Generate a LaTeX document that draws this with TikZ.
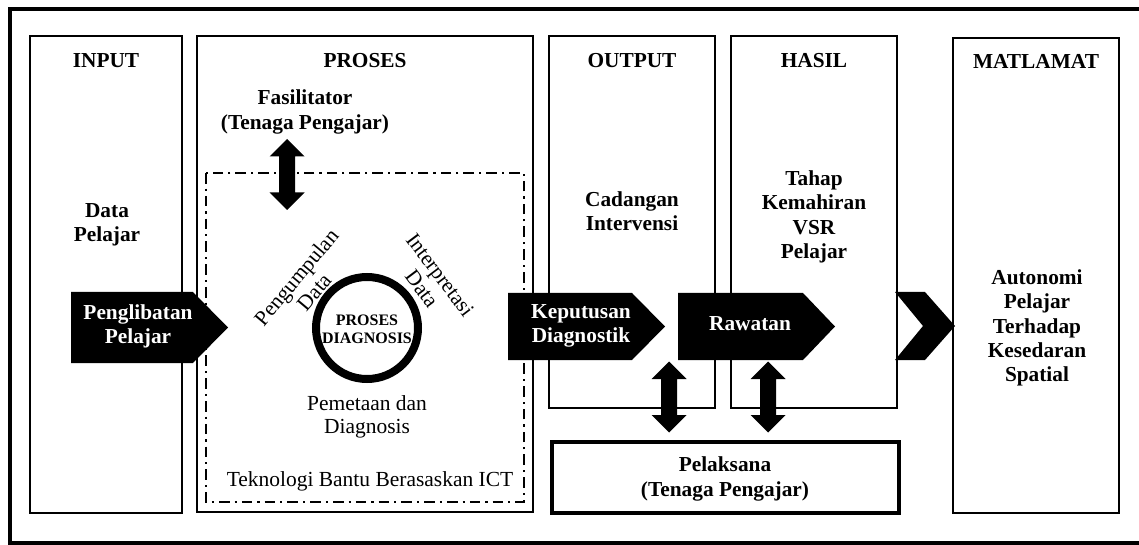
\documentclass[tikz,border=0pt]{standalone}
\usepackage{fontspec}
\setmainfont{Liberation Serif}
\begin{document}
\begin{tikzpicture}[x=0.75pt,y=-0.75pt,
  box/.style={draw, line width=1.5pt},
  thickbox/.style={draw, line width=2.4pt},
  dashdot/.style={draw, line width=1.6pt, dash pattern=on 8pt off 3.75pt on 1.6pt off 3.75pt},
  bt/.style={font=\bfseries\fontsize{16}{18.2}\selectfont, align=center, inner sep=0pt},
  rt/.style={font=\fontsize{16.1}{17.3}\selectfont, align=center, inner sep=0pt},
  wt/.style={bt, text=white},
  ct/.style={font=\bfseries\fontsize{12}{13.5}\selectfont, align=center, inner sep=0pt},
  blk/.style={fill=black, draw=none},
  dblarrow/.pic={\fill (0,-35.5)--(17.5,-18)--(8,-18)--(8,18)--(17.5,18)--(0,35.5)--(-17.5,18)--(-8,18)--(-8,-18)--(-17.5,-18)--cycle;}
]
\useasboundingbox (0,0) rectangle (1139,545);
% outer frame
\draw[line width=2.5pt] (1141,9) -- (10,9) -- (10,543) -- (1141,543);
% column boxes
\draw[box] (30,36) rectangle (182,513);
\draw[box] (197,36) rectangle (533,512);
\draw[box] (549,36) rectangle (715,408);
\draw[box] (731,36) rectangle (897,408);
\draw[box] (953,38) rectangle (1119,513);
\draw[thickbox] (552,442) rectangle (899,513);
% dash-dot region
\draw[dashdot] (206,173) rectangle (524,502);

% headers
\node[bt] (hin)  at (106,61) {INPUT};
\node[bt] (hpr)  at (365,61) {PROSES};
\node[bt] (hout) at (632,61) {OUTPUT};
\node[bt] (hhas) at (814,61) {HASIL};
\node[bt] (hmat) at (1036,61) {MATLAMAT};

% column texts
\node[bt] (data) at (107,224.5) {Data\\Pelajar};
\node[bt] (fas)  at (305,112) {Fasilitator\\(Tenaga Pengajar)};
\node[bt] (cad)  at (632,211.5) {Cadangan\\Intervensi};
\node[bt] (tah)  at (814,217) {Tahap\\Kemahiran\\VSR\\Pelajar};
\node[bt] (aut)  at (1037,328) {Autonomi\\Pelajar\\Terhadap\\Kesedaran\\Spatial};
\node[bt] (pel)  at (725,479) {Pelaksana\\(Tenaga Pengajar)};

% process circle
\draw[line width=6pt] (367,328) circle[radius=51];
\node[ct] (pd) at (367,329) {PROSES\\DIAGNOSIS};
\node[rt, rotate=50]  (pdata) at (305,284.5) {Pengumpulan\\Data};
\node[rt, rotate=-53] (idata) at (431,282) {Interpretasi\\Data};
\node[rt] (pem) at (367,416.5) {Pemetaan dan\\Diagnosis};
\node[rt] (tek) at (370,481) {Teknologi Bantu Berasaskan ICT};

% block arrows
\fill[blk] (71,292) -- (193,292) -- (228,327.5) -- (193,363) -- (71,363) -- cycle;
\node[wt] (peng) at (138,326.5) {Penglibatan\\Pelajar};
\fill[blk] (508,293) -- (632,293) -- (665,326.5) -- (632,360) -- (508,360) -- cycle;
\node[wt] (kep) at (581,326) {Keputusan\\Diagnostik};
\fill[blk] (678,293) -- (803,293) -- (835,326.5) -- (803,360) -- (678,360) -- cycle;
\node[wt] (raw) at (750,324) {Rawatan};
% chevron
\fill[blk] (895,292) -- (925,292) -- (955,326) -- (925,360) -- (895,360) -- (923,326) -- cycle;

% double arrows
\pic at (287,174.5) {dblarrow};
\pic at (669,397) {dblarrow};
\pic at (768,397) {dblarrow};
\end{tikzpicture}
\end{document}
